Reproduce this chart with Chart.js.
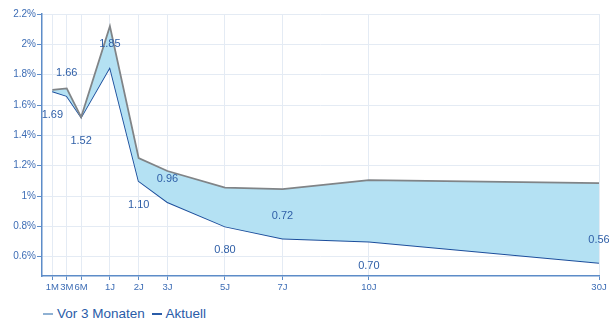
<!DOCTYPE html>
<html>
<head>
<meta charset="utf-8">
<script src="https://cdn.jsdelivr.net/npm/chart.js@4.4.1/dist/chart.umd.min.js"></script>
<style>
  body { margin: 0; background: #fff; }
  #wrap { position: relative; width: 609px; height: 327px; }
  #legende {
    position: absolute; left: 43px; top: 305px; height: 18px; line-height: 18px;
    font-family: "Liberation Sans", Arial, sans-serif; font-size: 13.5px; color: #2a5ca8;
    white-space: nowrap;
  }
  #legende .strich { display: inline-block; width: 10px; height: 2px; vertical-align: middle; margin-right: 4px; }
</style>
</head>
<body>
<div id="wrap">
  <canvas id="zinskurve" width="609" height="300"></canvas>
  <div id="legende">
    <span class="strich" style="background:#8fb1d3"></span>Vor 3 Monaten
    <span class="strich" style="background:#2a5ca8; margin-left:3px"></span>Aktuell
  </div>
</div>
<script>
// Laufzeiten und ihre Lage auf der (gestauchten) Laufzeitachse
const laufzeiten = ["1M", "3M", "6M", "1J", "2J", "3J", "5J", "7J", "10J", "30J"];
const achsenPosition = [-1, -0.5, 0, 1, 2, 3, 5, 7, 10, 18];

// Renditen in %
const aktuell = [1.69, 1.66, 1.52, 1.85, 1.10, 0.96, 0.80, 0.72, 0.70, 0.56];
const vor3Monaten = [1.70, 1.71, 1.52, 2.12, 1.25, 1.165, 1.055, 1.045, 1.105, 1.085];

// Y-Achse
const yTicks = [0.6, 0.8, 1.0, 1.2, 1.4, 1.6, 1.8, 2.0, 2.2];

const punkte = (werte) => werte.map((w, i) => ({ x: achsenPosition[i], y: w }));

const achsenBlau = "#5d8cc8";
const gitter = "#e4ebf4";

// Werte der aktuellen Kurve abwechselnd unter/über den Punkten beschriften
const wertBeschriftung = {
    id: "wertBeschriftung",
    afterDatasetsDraw(chart) {
        const meta = chart.getDatasetMeta(1);
        const ctx = chart.ctx;
        ctx.save();
        ctx.font = "11px 'Liberation Sans', Arial, sans-serif";
        ctx.fillStyle = "#2f5fa7";
        ctx.textAlign = "center";
        ctx.textBaseline = "middle";
        meta.data.forEach((p, i) => {
            const dy = i % 2 === 0 ? 24 : -23;
            ctx.fillText(aktuell[i].toFixed(2), p.x, p.y + dy);
        });
        ctx.restore();
    }
};

new Chart(document.getElementById("zinskurve"), {
    type: "line",
    data: {
        datasets: [
            {
                label: "Vor 3 Monaten",
                data: punkte(vor3Monaten),
                borderColor: "#808487",
                borderWidth: 1.8,
                backgroundColor: "#b4e1f3",
                fill: "+1",
                pointRadius: 0,
                tension: 0
            },
            {
                label: "Aktuell",
                data: punkte(aktuell),
                borderColor: "#1c4e9c",
                borderWidth: 1.8,
                fill: false,
                pointRadius: 0,
                tension: 0
            }
        ]
    },
    options: {
        responsive: false,
        animation: false,
        layout: { padding: { left: 0, right: 10, top: 14, bottom: 0 } },
        plugins: {
            legend: { display: false },
            tooltip: { enabled: false }
        },
        scales: {
            x: {
                type: "linear",
                min: -1.36,
                max: 18,
                afterBuildTicks: (s) => { s.ticks = achsenPosition.map((v) => ({ value: v })); },
                afterFit: (s) => { s.height = 24; },
                ticks: {
                    autoSkip: false,
                    maxRotation: 0,
                    padding: 2,
                    color: "#3d6db5",
                    font: { family: "'Liberation Sans', Arial, sans-serif", size: 9.5 },
                    callback: (v) => laufzeiten[achsenPosition.indexOf(v)]
                },
                grid: { color: gitter, tickColor: achsenBlau, tickLength: 4, lineWidth: 1 },
                border: { color: achsenBlau, width: 1.5 }
            },
            y: {
                min: 0.473,
                max: 2.2,
                afterBuildTicks: (s) => { s.ticks = yTicks.map((v) => ({ value: v })); },
                afterFit: (s) => { s.width = 42; },
                ticks: {
                    padding: 1,
                    color: "#3d6db5",
                    font: { family: "'Liberation Sans', Arial, sans-serif", size: 10 },
                    callback: (v) => Number(v.toFixed(1)) + "%"
                },
                grid: { color: gitter, tickColor: achsenBlau, tickLength: 5, lineWidth: 1 },
                border: { color: achsenBlau, width: 1.5 }
            }
        }
    },
    plugins: [wertBeschriftung]
});
</script>
</body>
</html>
